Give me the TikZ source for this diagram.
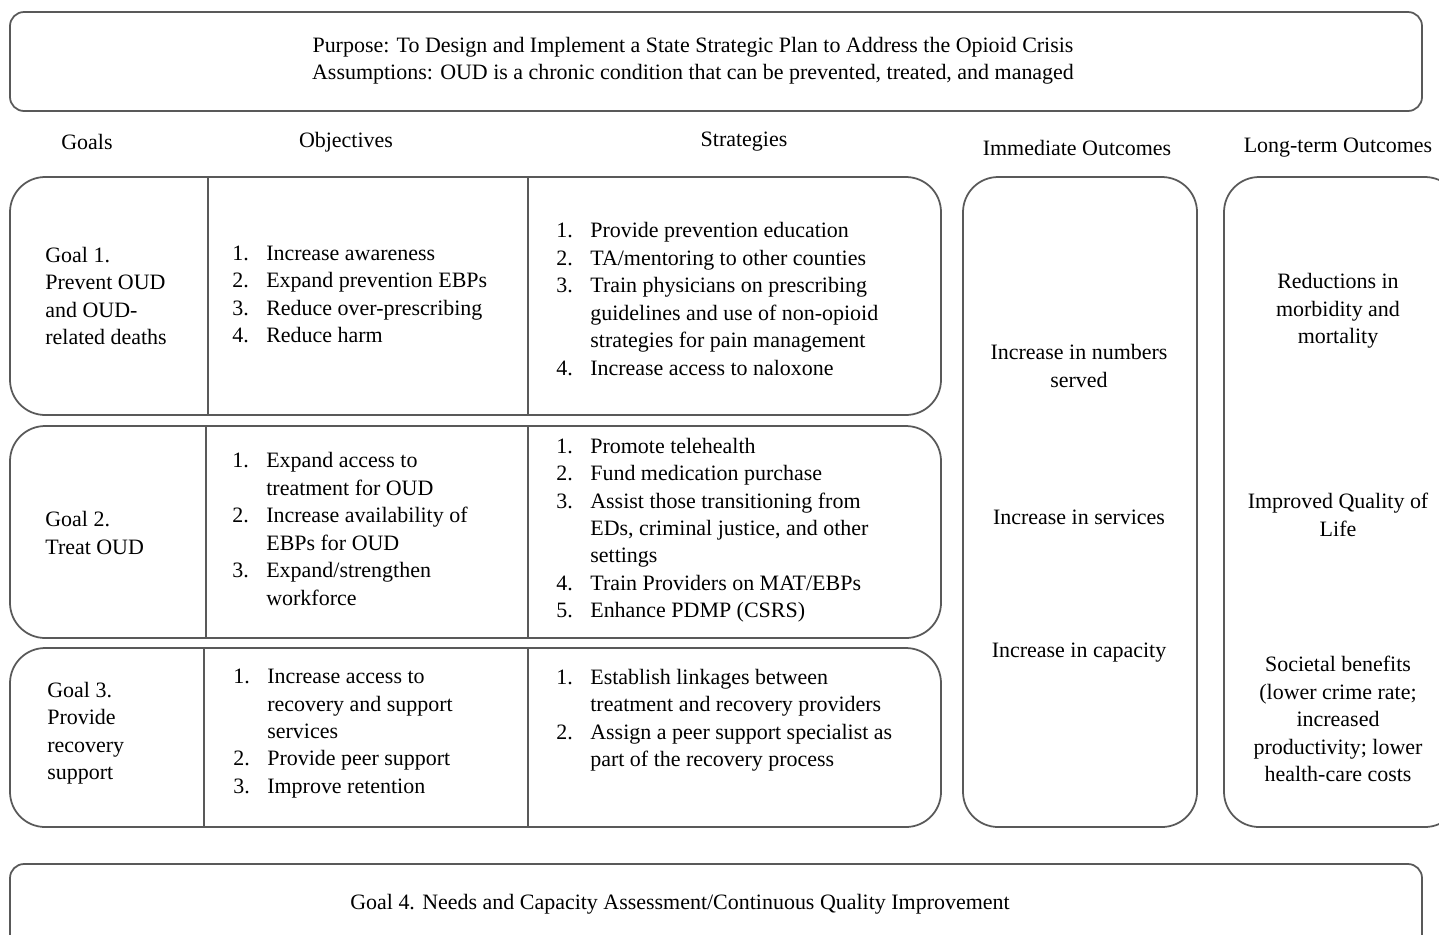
\documentclass[tikz,border=0pt]{standalone}
\usepackage{fontspec}
\setmainfont{Liberation Serif}
\newcommand{\itemlist}[1]{\begin{tabular}{@{}p{0.68cm}@{}l@{}}#1\end{tabular}}
\begin{document}
\begin{tikzpicture}[x=0.02cm, y=-0.02cm,
        box/.style = {draw=black!65, line width=1pt},
        txt/.style = {font=\fontsize{12.5}{15.6}\selectfont, inner sep=0pt},
        lefttxt/.style = {txt, anchor=west, align=left},
        midtxt/.style = {txt, align=center}]
    \useasboundingbox (0,0) rectangle (1439,934);

    % frames
    \draw[box, rounded corners=8pt] (10,12) rectangle (1422,111);
    \draw[box, rounded corners=20pt] (10,177) rectangle (941,415);
    \draw[box, rounded corners=20pt] (10,426) rectangle (941,638);
    \draw[box, rounded corners=20pt] (10,648) rectangle (941,827);
    \draw[box, rounded corners=20pt] (963,177) rectangle (1197,827);
    \draw[box, rounded corners=20pt] (1224,177) rectangle (1460,827);
    \draw[box, rounded corners=8pt] (10,864) rectangle (1422,960);
    \draw[box] (208,177) -- (208,415);
    \draw[box] (528,177) -- (528,415);
    \draw[box] (206,426) -- (206,638);
    \draw[box] (528,426) -- (528,638);
    \draw[box] (204,648) -- (204,827);
    \draw[box] (528,648) -- (528,827);

    % header
    \node[midtxt] (purpose) at (693,61)
        {Purpose: To Design and Implement a State Strategic Plan to Address the Opioid Crisis\\
         Assumptions: OUD is a chronic condition that can be prevented, treated, and managed};
    \node[midtxt] (hgoals) at (87,142) {Goals};
    \node[midtxt] (hobj) at (346,142) {Objectives};
    \node[midtxt] (hstrat) at (744,142) {Strategies};
    \node[midtxt] (himm) at (1077,148) {Immediate Outcomes};
    \node[midtxt] (hlong) at (1338,148) {Long-term Outcomes};

    % goal 1
    \node[lefttxt] (goalA) at (45,296) {Goal 1.\\Prevent OUD\\and OUD-\\related deaths};
    \node[lefttxt] (objA) at (232,296) {\itemlist{
        1. & Increase awareness\\
        2. & Expand prevention EBPs\\
        3. & Reduce over-prescribing\\
        4. & Reduce harm}};
    \node[lefttxt] (stratA) at (556,301) {\itemlist{
        1. & Provide prevention education\\
        2. & TA/mentoring to other counties\\
        3. & Train physicians on prescribing\\
           & guidelines and use of non-opioid\\
           & strategies for pain management\\
        4. & Increase access to naloxone}};

    % goal 2
    \node[lefttxt] (goalB) at (45,533) {Goal 2.\\Treat OUD};
    \node[lefttxt] (objB) at (232,531) {\itemlist{
        1. & Expand access to\\
           & treatment for OUD\\
        2. & Increase availability of\\
           & EBPs for OUD\\
        3. & Expand/strengthen\\
           & workforce}};
    \node[lefttxt] (stratB) at (556,530) {\itemlist{
        1. & Promote telehealth\\
        2. & Fund medication purchase\\
        3. & Assist those transitioning from\\
           & EDs, criminal justice, and other\\
           & settings\\
        4. & Train Providers on MAT/EBPs\\
        5. & Enhance PDMP (CSRS)}};

    % goal 3
    \node[lefttxt] (goalC) at (47,733) {Goal 3.\\Provide\\recovery\\support};
    \node[lefttxt] (objC) at (233,733) {\itemlist{
        1. & Increase access to\\
           & recovery and support\\
           & services\\
        2. & Provide peer support\\
        3. & Improve retention}};
    \node[lefttxt] (stratC) at (556,720) {\itemlist{
        1. & Establish linkages between\\
           & treatment and recovery providers\\
        2. & Assign a peer support specialist as\\
           & part of the recovery process}};

    % outcomes
    \node[midtxt] (immA) at (1079,366) {Increase in numbers\\served};
    \node[midtxt] (immB) at (1079,517) {Increase in services};
    \node[midtxt] (immC) at (1079,653) {Increase in capacity};
    \node[midtxt] (longA) at (1338,311) {Reductions in\\morbidity and\\mortality};
    \node[midtxt] (longB) at (1338,515) {Improved Quality of\\Life};
    \node[midtxt] (longC) at (1338,719) {Societal benefits\\(lower crime rate;\\increased\\productivity; lower\\health-care costs};

    % goal 4
    \node[midtxt] (goalD) at (680,904) {Goal 4. Needs and Capacity Assessment/Continuous Quality Improvement};
\end{tikzpicture}
\end{document}
